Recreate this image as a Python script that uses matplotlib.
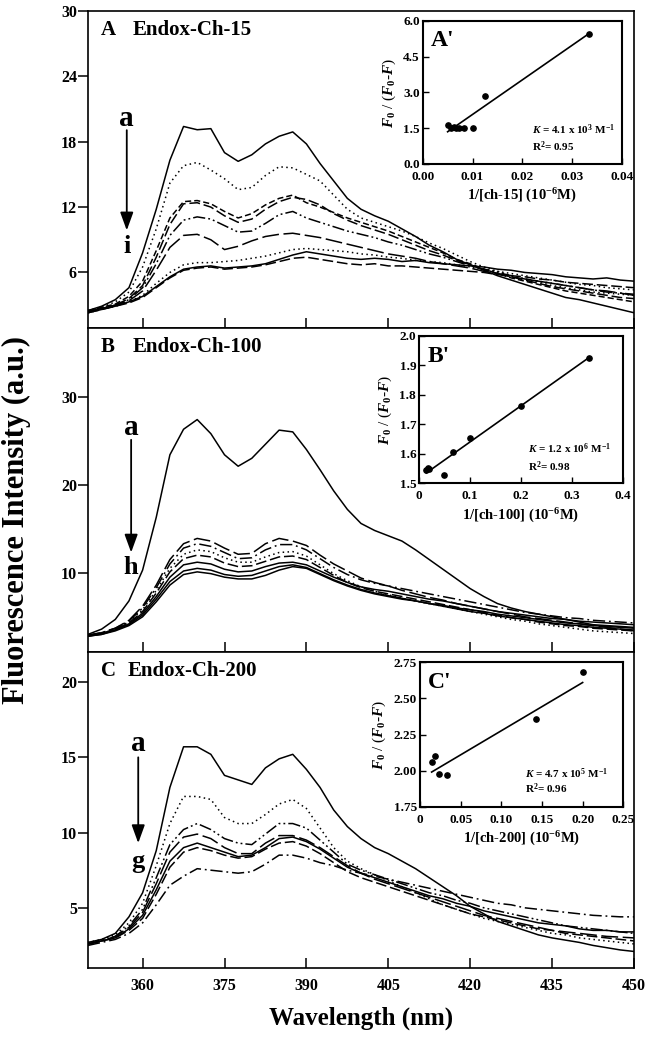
import numpy as np
import matplotlib
matplotlib.use('Agg')
import matplotlib.pyplot as plt

plt.rcParams['font.family'] = ['Liberation Serif', 'DejaVu Serif']
plt.rcParams['font.weight'] = 'bold'
plt.rcParams['mathtext.fontset'] = 'custom'
plt.rcParams['mathtext.rm'] = 'Liberation Serif:bold'
plt.rcParams['mathtext.it'] = 'Liberation Serif:italic:bold'
plt.rcParams['mathtext.bf'] = 'Liberation Serif:bold'

# ---------------- data ----------------
wavelength = [350, 352.5, 355, 357.5, 360, 362.5, 365, 367.5, 370, 372.5, 375, 377.5, 380,
              382.5, 385, 387.5, 390, 392.5, 395, 397.5, 400, 402.5, 405, 407.5, 410, 412.5,
              415, 417.5, 420, 422.5, 425, 427.5, 430, 432.5, 435, 437.5, 440, 442.5, 445,
              447.5, 450]

# Panel A: Endox-Ch-15, curves a..i
A_a = [2.5, 2.9, 3.5, 4.6, 7.8, 11.8, 16.3, 19.4, 19.1, 19.2, 17.0, 16.2, 16.8, 17.8, 18.5, 18.9, 17.8, 16.0, 14.4, 12.8, 11.8, 11.2, 10.7, 10.0, 9.3, 8.5, 7.9, 7.2, 6.7, 6.2, 5.7, 5.3, 4.9, 4.5, 4.1, 3.7, 3.5, 3.2, 2.9, 2.6, 2.3]
A_b = [2.5, 2.8, 3.3, 4.2, 6.5, 10.0, 14.2, 15.8, 16.1, 15.4, 14.6, 13.6, 13.8, 14.9, 15.7, 15.6, 15.0, 14.4, 13.1, 11.8, 11.0, 10.6, 10.2, 9.8, 9.3, 8.7, 8.2, 7.6, 7.0, 6.5, 6.1, 5.7, 5.4, 5.1, 4.8, 4.6, 4.4, 4.2, 4.1, 4.0, 3.9]
A_c = [2.5, 2.8, 3.1, 3.8, 5.2, 8.0, 11.0, 12.5, 12.6, 12.3, 11.6, 11.0, 11.4, 12.2, 12.8, 13.1, 12.4, 12.0, 11.5, 11.0, 10.6, 10.2, 9.8, 9.3, 8.8, 8.3, 7.8, 7.2, 6.8, 6.3, 5.9, 5.5, 5.2, 4.9, 4.6, 4.3, 4.1, 3.9, 3.7, 3.5, 3.3]
A_d = [2.4, 2.7, 3.0, 3.6, 4.8, 7.4, 10.4, 12.3, 12.4, 12.0, 11.2, 10.6, 10.9, 11.8, 12.5, 12.9, 12.7, 12.2, 11.4, 10.8, 10.3, 9.9, 9.5, 9.0, 8.5, 8.0, 7.6, 7.1, 6.7, 6.3, 5.9, 5.6, 5.3, 5.0, 4.7, 4.5, 4.3, 4.1, 3.9, 3.7, 3.6]
A_e = [2.4, 2.7, 3.0, 3.5, 4.6, 6.8, 9.4, 10.8, 11.1, 10.9, 10.3, 9.7, 9.8, 10.5, 11.3, 11.6, 11.0, 10.6, 10.2, 9.8, 9.5, 9.2, 8.8, 8.5, 8.1, 7.7, 7.4, 7.0, 6.6, 6.3, 6.0, 5.7, 5.4, 5.2, 5.0, 4.8, 4.6, 4.4, 4.2, 4.1, 4.0]
A_f = [2.4, 2.7, 3.0, 3.4, 4.3, 6.2, 8.3, 9.4, 9.5, 9.0, 8.1, 8.4, 8.9, 9.3, 9.5, 9.6, 9.4, 9.2, 8.9, 8.6, 8.3, 8.0, 7.7, 7.5, 7.3, 7.0, 6.8, 6.6, 6.4, 6.1, 5.9, 5.6, 5.4, 5.2, 5.0, 4.8, 4.6, 4.4, 4.3, 4.1, 3.9]
A_g = [2.3, 2.6, 2.9, 3.3, 3.9, 5.0, 6.0, 6.7, 6.9, 6.9, 7.0, 7.1, 7.3, 7.5, 7.8, 8.1, 8.2, 8.1, 8.0, 7.9, 7.7, 7.6, 7.4, 7.3, 7.1, 7.0, 6.9, 6.7, 6.5, 6.3, 6.1, 5.9, 5.7, 5.5, 5.3, 5.1, 4.9, 4.8, 4.6, 4.5, 4.4]
A_h = [2.3, 2.6, 2.9, 3.3, 3.8, 4.7, 5.6, 6.3, 6.5, 6.6, 6.4, 6.5, 6.6, 6.8, 7.2, 7.6, 7.9, 7.7, 7.5, 7.3, 7.2, 7.3, 7.2, 7.0, 7.1, 6.9, 6.8, 6.7, 6.6, 6.5, 6.3, 6.2, 6.0, 5.9, 5.8, 5.6, 5.5, 5.4, 5.5, 5.3, 5.2]
A_i = [2.3, 2.6, 2.9, 3.2, 3.7, 4.6, 5.5, 6.2, 6.4, 6.5, 6.3, 6.4, 6.5, 6.7, 7.0, 7.3, 7.4, 7.2, 7.0, 6.8, 6.7, 6.8, 6.6, 6.6, 6.5, 6.4, 6.3, 6.2, 6.1, 6.0, 5.8, 5.7, 5.6, 5.4, 5.3, 5.1, 5.0, 4.9, 4.8, 4.7, 4.6]

# Panel B: Endox-Ch-100, curves a..h
B_a = [3.0, 3.6, 4.7, 6.8, 10.3, 16.3, 23.4, 26.3, 27.4, 25.8, 23.4, 22.1, 23.0, 24.6, 26.2, 26.0, 24.0, 21.7, 19.3, 17.2, 15.6, 14.8, 14.2, 13.6, 12.6, 11.5, 10.4, 9.3, 8.2, 7.3, 6.5, 6.0, 5.6, 5.3, 5.0, 4.7, 4.4, 4.1, 4.0, 3.9, 3.8]
B_b = [2.9, 3.2, 3.7, 4.6, 6.2, 8.6, 11.5, 13.3, 13.9, 13.6, 12.8, 12.1, 12.2, 13.3, 13.9, 13.6, 13.1, 12.0, 11.0, 10.2, 9.4, 8.9, 8.5, 8.0, 7.6, 7.2, 6.9, 6.5, 6.2, 5.9, 5.6, 5.3, 5.0, 4.8, 4.6, 4.4, 4.2, 4.0, 3.8, 3.6, 3.4]
B_c = [2.9, 3.2, 3.7, 4.5, 6.0, 8.3, 11.0, 12.8, 13.3, 13.0, 12.3, 11.6, 11.7, 12.6, 13.2, 13.2, 12.6, 11.6, 10.6, 9.8, 9.2, 8.8, 8.5, 8.2, 7.9, 7.6, 7.3, 7.0, 6.7, 6.4, 6.1, 5.8, 5.5, 5.3, 5.1, 4.9, 4.8, 4.6, 4.5, 4.4, 4.3]
B_d = [2.9, 3.1, 3.6, 4.4, 5.8, 8.0, 10.5, 12.1, 12.6, 12.4, 11.7, 11.2, 11.2, 11.8, 12.3, 12.4, 11.9, 10.9, 9.9, 9.1, 8.4, 7.9, 7.5, 7.1, 6.8, 6.5, 6.2, 5.9, 5.6, 5.3, 5.0, 4.7, 4.5, 4.2, 4.0, 3.8, 3.6, 3.4, 3.3, 3.2, 3.1]
B_e = [2.9, 3.1, 3.6, 4.3, 5.6, 7.7, 10.1, 11.6, 12.0, 11.8, 11.1, 10.7, 10.8, 11.3, 11.8, 11.9, 11.5, 10.6, 9.7, 8.9, 8.3, 7.9, 7.6, 7.3, 7.0, 6.7, 6.4, 6.1, 5.8, 5.5, 5.2, 4.9, 4.7, 4.4, 4.2, 4.0, 3.9, 3.7, 3.6, 3.5, 3.4]
B_f = [2.8, 3.1, 3.5, 4.2, 5.4, 7.3, 9.5, 10.9, 11.2, 11.0, 10.4, 10.1, 10.2, 10.7, 11.1, 11.2, 10.9, 10.2, 9.5, 8.9, 8.4, 8.1, 7.9, 7.6, 7.3, 7.0, 6.8, 6.5, 6.2, 5.9, 5.6, 5.4, 5.2, 5.0, 4.8, 4.7, 4.5, 4.4, 4.3, 4.2, 4.1]
B_g = [2.8, 3.0, 3.5, 4.1, 5.2, 7.0, 9.0, 10.2, 10.5, 10.3, 9.8, 9.6, 9.7, 10.2, 10.7, 10.9, 10.6, 9.9, 9.2, 8.6, 8.1, 7.7, 7.4, 7.1, 6.8, 6.5, 6.2, 5.9, 5.6, 5.4, 5.1, 4.9, 4.7, 4.5, 4.3, 4.1, 4.0, 3.8, 3.7, 3.6, 3.5]
B_h = [2.8, 3.0, 3.4, 4.0, 5.0, 6.7, 8.6, 9.8, 10.1, 9.9, 9.5, 9.3, 9.3, 9.7, 10.3, 10.7, 10.5, 9.8, 9.1, 8.5, 8.0, 7.6, 7.3, 7.0, 6.8, 6.5, 6.3, 6.0, 5.8, 5.6, 5.3, 5.1, 4.9, 4.7, 4.5, 4.3, 4.2, 4.0, 3.9, 3.8, 3.7]

# Panel C: Endox-Ch-200, curves a..g
C_a = [2.7, 2.9, 3.3, 4.4, 6.0, 8.8, 13.0, 15.7, 15.7, 15.2, 13.8, 13.5, 13.2, 14.3, 14.9, 15.2, 14.2, 13.0, 11.5, 10.4, 9.6, 9.0, 8.6, 8.1, 7.6, 7.0, 6.4, 5.8, 5.1, 4.6, 4.1, 3.8, 3.5, 3.2, 3.0, 2.85, 2.7, 2.5, 2.35, 2.2, 2.1]
C_b = [2.7, 2.9, 3.2, 4.0, 5.3, 7.8, 10.6, 12.4, 12.4, 12.2, 11.0, 10.6, 10.6, 11.2, 11.9, 12.2, 11.6, 10.3, 9.0, 8.1, 7.6, 7.2, 6.8, 6.4, 6.0, 5.6, 5.2, 4.9, 4.6, 4.3, 4.1, 3.9, 3.7, 3.5, 3.3, 3.2, 3.0, 2.9, 2.8, 2.7, 2.6]
C_c = [2.6, 2.8, 3.1, 3.8, 4.9, 7.0, 9.2, 10.2, 10.6, 10.2, 9.6, 9.3, 9.2, 9.9, 10.6, 10.6, 10.3, 9.5, 8.7, 7.9, 7.5, 7.2, 6.9, 6.6, 6.3, 6.0, 5.8, 5.5, 5.3, 5.0, 4.8, 4.6, 4.4, 4.2, 4.0, 3.8, 3.7, 3.6, 3.5, 3.4, 3.3]
C_d = [2.6, 2.8, 3.1, 3.7, 4.7, 6.6, 8.7, 9.7, 9.9, 9.6, 9.0, 8.6, 8.6, 9.3, 9.8, 9.8, 9.5, 9.0, 8.4, 7.8, 7.3, 6.9, 6.6, 6.3, 6.0, 5.7, 5.4, 5.1, 4.8, 4.5, 4.3, 4.1, 3.9, 3.7, 3.5, 3.4, 3.3, 3.2, 3.1, 3.05, 3.0]
C_e = [2.6, 2.8, 3.0, 3.6, 4.5, 6.2, 8.1, 9.0, 9.3, 9.0, 8.7, 8.4, 8.5, 9.0, 9.6, 9.7, 9.4, 8.9, 8.3, 7.7, 7.3, 7.0, 6.7, 6.4, 6.1, 5.8, 5.6, 5.3, 5.1, 4.8, 4.6, 4.4, 4.2, 4.0, 3.9, 3.8, 3.6, 3.5, 3.5, 3.4, 3.4]
C_f = [2.6, 2.8, 3.0, 3.5, 4.3, 5.9, 7.7, 8.7, 9.0, 8.8, 8.5, 8.3, 8.4, 8.9, 9.3, 9.4, 9.1, 8.6, 8.0, 7.4, 7.0, 6.7, 6.4, 6.1, 5.8, 5.5, 5.2, 4.9, 4.6, 4.4, 4.2, 4.0, 3.8, 3.6, 3.5, 3.3, 3.2, 3.1, 3.0, 2.9, 2.8]
C_g = [2.5, 2.7, 2.9, 3.3, 4.0, 5.2, 6.5, 7.1, 7.6, 7.5, 7.4, 7.3, 7.4, 7.9, 8.5, 8.5, 8.3, 8.0, 7.8, 7.5, 7.3, 7.1, 6.9, 6.7, 6.5, 6.3, 6.1, 5.9, 5.7, 5.5, 5.3, 5.2, 5.0, 4.9, 4.8, 4.7, 4.6, 4.5, 4.45, 4.4, 4.4]

# Insets: 1/[ch] vs F0/(F0-F)
A_inv = [0.0050, 0.0056, 0.0062, 0.0067, 0.0072, 0.0083, 0.0100, 0.0125, 0.0333]
A_ratio = [1.62, 1.50, 1.55, 1.52, 1.52, 1.50, 1.50, 2.86, 5.45]
A_fit_x = [0.0050, 0.0333]
A_fit_y = [1.35, 5.45]

B_inv = [0.0143, 0.0167, 0.0200, 0.0500, 0.0667, 0.1000, 0.2000, 0.3330]
B_ratio = [1.545, 1.552, 1.548, 1.527, 1.605, 1.655, 1.762, 1.925]
B_fit_x = [0.0143, 0.3330]
B_fit_y = [1.535, 1.925]

C_inv = [0.0143, 0.0180, 0.0238, 0.0328, 0.1430, 0.2000]
C_ratio = [2.06, 2.10, 1.975, 1.97, 2.355, 2.685]
C_fit_x = [0.0143, 0.2000]
C_fit_y = [1.99, 2.61]

# ---------------- styles ----------------
SOLID = '-'
DOT = (0, (1, 2.2))
SDASH = (0, (4, 2))
DASH = (0, (7, 2.5))
LDASH = (0, (11, 3))
DDOT = (0, (8, 2, 1.2, 2, 1.2, 2))
DDASH = (0, (8, 2.5, 1.2, 2.5))

panels = [
    dict(curves=[A_a, A_b, A_c, A_d, A_e, A_f, A_g, A_h, A_i],
         styles=[SOLID, DOT, SDASH, DASH, DDOT, LDASH, DOT, SOLID, DASH],
         ylim=(0.9, 30), yticks=[6, 12, 18, 24, 30], letter='A', name='Endox-Ch-15',
         arrow=(357.1, 19.06, 9.86), top=(20.1, 'a'), bot=(8.4, 'i'),
         rect=[88, 11, 634, 328]),
    dict(curves=[B_a, B_b, B_c, B_d, B_e, B_f, B_g, B_h],
         styles=[SOLID, LDASH, DDASH, DOT, DASH, SOLID, SOLID, SOLID],
         ylim=(1.0, 37.8), yticks=[10, 20, 30], letter='B', name='Endox-Ch-100',
         arrow=(357.9, 25.1, 12.3), top=(26.5, 'a'), bot=(10.6, 'h'),
         rect=[88, 328, 634, 652]),
    dict(curves=[C_a, C_b, C_c, C_d, C_e, C_f, C_g],
         styles=[SOLID, DOT, DDOT, LDASH, SOLID, DASH, DDASH],
         ylim=(1.0, 22.0), yticks=[5, 10, 15, 20], letter='C', name='Endox-Ch-200',
         arrow=(359.2, 15.0, 9.3), top=(15.9, 'a'), bot=(8.1, 'g'),
         rect=[88, 652, 634, 968]),
]

insets = [
    dict(x=A_inv, y=A_ratio, fx=A_fit_x, fy=A_fit_y, xlim=(0, 0.04), ylim=(0, 6.0),
         xticks=[0, 0.01, 0.02, 0.03, 0.04], xtl=['0.00', '0.01', '0.02', '0.03', '0.04'],
         yticks=[0, 1.5, 3.0, 4.5, 6.0], ytl=['0.0', '1.5', '3.0', '4.5', '6.0'],
         tag="A'", xlabel='1/[ch-15] (10$^{-6}$M)', K='4.1 x 10$^{3}$', R2='0.95',
         rect=[422.7, 20.7, 622, 164], kpos=(0.547, 0.237, 0.12)),
    dict(x=B_inv, y=B_ratio, fx=B_fit_x, fy=B_fit_y, xlim=(0, 0.4), ylim=(1.5, 2.0),
         xticks=[0, 0.1, 0.2, 0.3, 0.4], xtl=['0', '0.1', '0.2', '0.3', '0.4'],
         yticks=[1.5, 1.6, 1.7, 1.8, 1.9, 2.0], ytl=['1.5', '1.6', '1.7', '1.8', '1.9', '2.0'],
         tag="B'", xlabel='1/[ch-100] (10$^{-6}$M)', K='1.2 x 10$^{6}$', R2='0.98',
         rect=[419, 335.7, 622.7, 483.3], kpos=(0.537, 0.237, 0.112)),
    dict(x=C_inv, y=C_ratio, fx=C_fit_x, fy=C_fit_y, xlim=(0, 0.25), ylim=(1.75, 2.75),
         xticks=[0, 0.05, 0.10, 0.15, 0.20, 0.25], xtl=['0', '0.05', '0.10', '0.15', '0.20', '0.25'],
         yticks=[1.75, 2.0, 2.25, 2.5, 2.75], ytl=['1.75', '2.00', '2.25', '2.50', '2.75'],
         tag="C'", xlabel='1/[ch-200] (10$^{-6}$M)', K='4.7 x 10$^{5}$', R2='0.96',
         rect=[420, 662.3, 623.3, 806.7], kpos=(0.516, 0.231, 0.127)),
]

W, H = 652, 1039
fig = plt.figure(figsize=(W / 100, H / 100), dpi=100)


def frac(r):
    x0, y0, x1, y1 = r
    return [x0 / W, 1 - y1 / H, (x1 - x0) / W, (y1 - y0) / H]


for i, p in enumerate(panels):
    ax = fig.add_axes(frac(p['rect']))
    for c, ls in zip(p['curves'], p['styles']):
        ax.plot(wavelength, c, color='black', lw=1.1, ls=ls)
    ax.set_xlim(350, 450)
    ax.set_ylim(*p['ylim'])
    ax.set_xticks([360, 375, 390, 405, 420, 435, 450])
    ax.set_yticks(p['yticks'])
    ax.tick_params(axis='x', direction='in', length=7, width=1.1, pad=7, labelsize=11.5)
    ax.tick_params(axis='y', direction='out', length=7, width=1.1, pad=1, labelsize=11.5)
    if i < 2:
        ax.tick_params(axis='x', labelbottom=False)
    for s in ax.spines.values():
        s.set_linewidth(1.2)
    ax.text(0.024, 0.94, p['letter'], transform=ax.transAxes, fontsize=15,
            fontweight='bold', va='center', ha='left')
    ax.text(0.082 if i < 2 else 0.073, 0.94, p['name'], transform=ax.transAxes,
            fontsize=15, fontweight='bold', va='center', ha='left')
    xa, y0, y1 = p['arrow']
    ax.annotate('', xy=(xa, y1), xytext=(xa, y0),
                arrowprops=dict(arrowstyle='-|>,head_length=1.1,head_width=0.4',
                                lw=1.3, color='black', shrinkA=0, shrinkB=0))
    ax.text(xa, p['top'][0], p['top'][1], ha='center', va='center', fontsize=21,
            fontweight='bold')
    ax.text(xa, p['bot'][0], p['bot'][1], ha='center', va='center', fontsize=19,
            fontweight='bold')

for q in insets:
    ia = fig.add_axes(frac(q['rect']), zorder=5)
    ia.set_facecolor('white')
    ia.plot(q['fx'], q['fy'], color='black', lw=1.2)
    ia.plot(q['x'], q['y'], 'o', color='black', ms=3.8)
    ia.set_xlim(*q['xlim'])
    ia.set_ylim(*q['ylim'])
    ia.set_xticks(q['xticks'])
    ia.set_xticklabels(q['xtl'])
    ia.set_yticks(q['yticks'])
    ia.set_yticklabels(q['ytl'])
    ia.tick_params(direction='in', length=4, width=1.0, labelsize=9.5)
    ia.tick_params(axis='x', pad=5)
    ia.tick_params(axis='y', pad=2)
    for s in ia.spines.values():
        s.set_linewidth(1.5)
    ia.set_xlabel(q['xlabel'], fontsize=10.5, fontweight='bold', labelpad=3)
    ia.set_ylabel('$F_{0}$ / ($F_{0}$-$F$)', fontsize=11, labelpad=4)
    ia.text(0.04, 0.86, q['tag'], transform=ia.transAxes, fontsize=17,
            fontweight='bold', va='center', ha='left')
    kx, ky, ry = q['kpos']
    ia.text(kx, ky, '$K$ = ' + q['K'] + ' M$^{-1}$', transform=ia.transAxes,
            fontsize=8, fontweight='bold', va='center', ha='left')
    ia.text(kx, ry, 'R$^{2}$= ' + q['R2'], transform=ia.transAxes,
            fontsize=8, fontweight='bold', va='center', ha='left')

fig.text(0.026, 0.5, 'Fluorescence Intensity (a.u.)', rotation=90, ha='center',
         va='center', fontsize=22, fontweight='bold')
fig.text(361 / W, 0.02, 'Wavelength (nm)', ha='center', va='center', fontsize=18,
         fontweight='bold')

fig.savefig('out.png', dpi=100)
